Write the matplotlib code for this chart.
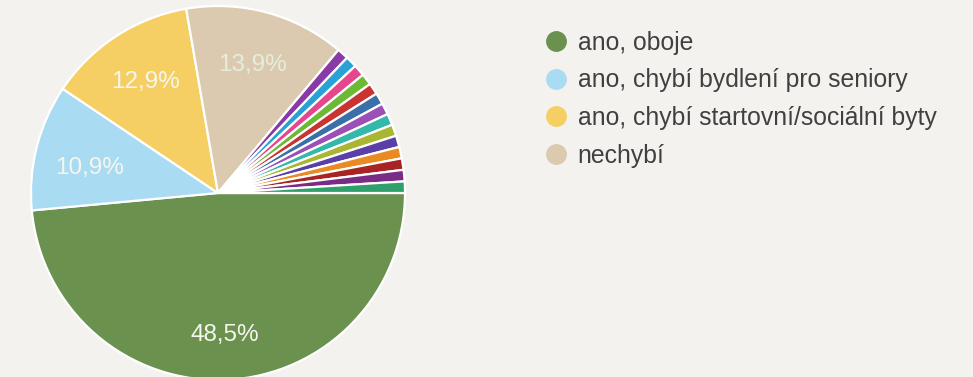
import matplotlib
matplotlib.use("Agg")
import matplotlib.pyplot as plt
from matplotlib.lines import Line2D

# Data (counts of respondents; 101 total)
labels = ["ano, oboje", "ano, chybí bydlení pro seniory",
          "ano, chybí startovní/sociální byty", "nechybí"]
main_values = [49, 11, 13, 14]
other_values = [1] * 14

main_colors = ["#6a914d", "#a9dbf3", "#f5cf63", "#dccab0"]
other_colors = ["#8a3aa6", "#28a2d6", "#e6468c", "#6cb934", "#c93431",
                "#3a6fa9", "#9c4fb6", "#33b8aa", "#a8b631", "#5a3fa6",
                "#e98b22", "#a82323", "#7a2b86", "#2f9f6e"]

values = main_values + other_values
colors = main_colors + other_colors

BG = "#f3f2ee"
W, H = 973, 377
fig = plt.figure(figsize=(W / 100, H / 100), dpi=100, facecolor=BG)

cx, cy, r = 218, 193, 187
ax = fig.add_axes([(cx - r) / W, (H - cy - r) / H, 2 * r / W, 2 * r / H])
ax.set_facecolor(BG)

def fmt(p):
    return f"{p:.1f}".replace(".", ",") + "%" if p > 5 else ""

wedges, texts, autotexts = ax.pie(
    values, colors=colors, startangle=0, counterclock=False,
    autopct=fmt, pctdistance=0.71, radius=1,
    wedgeprops=dict(edgecolor="white", linewidth=1.6),
    textprops=dict(color="#f4f6ef", fontsize=17.5, family="Liberation Sans"))
autotexts[0].set_position((autotexts[0].get_position()[0] * 1.07,
                           autotexts[0].get_position()[1] * 1.07))
autotexts[1].set_position((autotexts[1].get_position()[0] * 1.0,
                           autotexts[1].get_position()[1] * 0.75))
autotexts[3].set_color("#e4eedc")
ax.set_xlim(-1, 1)
ax.set_ylim(-1, 1)
ax.set_aspect("auto")
ax.axis("off")

handles = [Line2D([], [], marker="o", linestyle="none", markersize=14,
                  markerfacecolor=c, markeredgecolor=c) for c in main_colors]
fig.legend(handles, labels, loc="upper left",
           bbox_to_anchor=(533 / W, 1 - 21 / H), frameon=False,
           prop=dict(family="Liberation Sans", size=17.8),
           labelcolor="#404040", handletextpad=0.3, labelspacing=0.55,
           handlelength=1.1, borderaxespad=0)

fig.savefig("out.png", dpi=100, facecolor=BG)
